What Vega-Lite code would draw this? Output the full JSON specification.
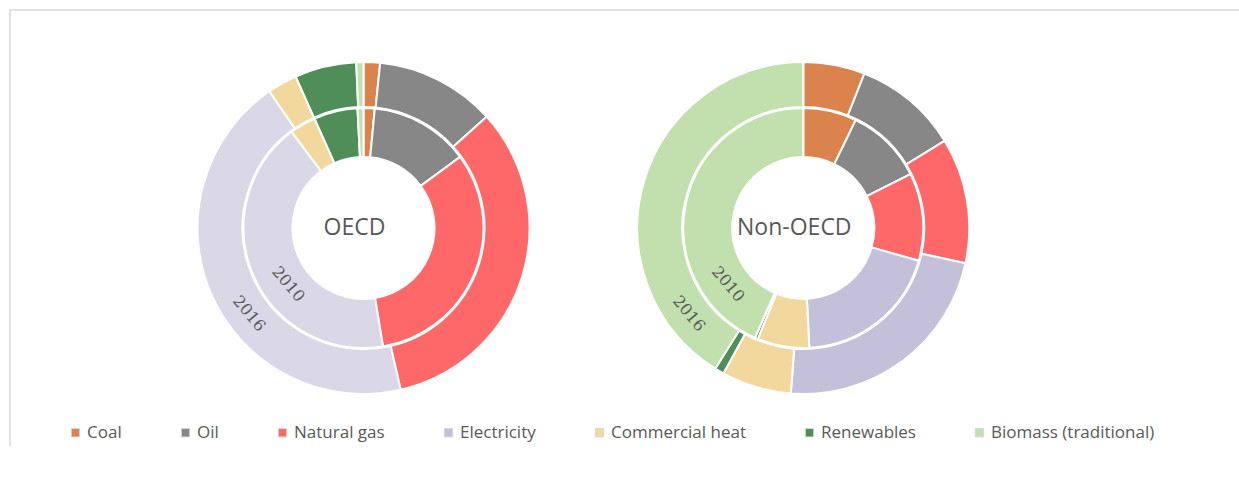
{
  "$schema": "https://vega.github.io/schema/vega-lite/v6.json",
  "width": 1240,
  "height": 436,
  "padding": {"left": 10, "top": 10, "right": 0, "bottom": 0},
  "autosize": "none",
  "background": "white",
  "config": {
    "view": {"stroke": "#e2e2e2", "strokeWidth": 2, "strokeDash": [1676, 1240, 436, 1]}
  },
  "datasets": {
    "energy": [
      {"region": "OECD", "year": "2010", "source": "Coal", "order": 1, "share": 1.5},
      {"region": "OECD", "year": "2010", "source": "Oil", "order": 2, "share": 13.4},
      {"region": "OECD", "year": "2010", "source": "Natural gas", "order": 3, "share": 32.5},
      {"region": "OECD", "year": "2010", "source": "Electricity", "order": 4, "share": 42.4},
      {"region": "OECD", "year": "2010", "source": "Commercial heat", "order": 5, "share": 3.5},
      {"region": "OECD", "year": "2010", "source": "Renewables", "order": 6, "share": 5.9},
      {"region": "OECD", "year": "2010", "source": "Biomass (traditional)", "order": 7, "share": 0.8},
      {"region": "OECD", "year": "2016", "source": "Coal", "order": 1, "share": 1.6},
      {"region": "OECD", "year": "2016", "source": "Oil", "order": 2, "share": 11.7},
      {"region": "OECD", "year": "2016", "source": "Natural gas", "order": 3, "share": 33.1},
      {"region": "OECD", "year": "2016", "source": "Electricity", "order": 4, "share": 44.0},
      {"region": "OECD", "year": "2016", "source": "Commercial heat", "order": 5, "share": 2.9},
      {"region": "OECD", "year": "2016", "source": "Renewables", "order": 6, "share": 6.0},
      {"region": "OECD", "year": "2016", "source": "Biomass (traditional)", "order": 7, "share": 0.7},
      {"region": "Non-OECD", "year": "2010", "source": "Coal", "order": 1, "share": 7.2},
      {"region": "Non-OECD", "year": "2010", "source": "Oil", "order": 2, "share": 10.4},
      {"region": "Non-OECD", "year": "2010", "source": "Natural gas", "order": 3, "share": 11.8},
      {"region": "Non-OECD", "year": "2010", "source": "Electricity", "order": 4, "share": 19.8},
      {"region": "Non-OECD", "year": "2010", "source": "Commercial heat", "order": 5, "share": 7.0},
      {"region": "Non-OECD", "year": "2010", "source": "Renewables", "order": 6, "share": 0.4},
      {"region": "Non-OECD", "year": "2010", "source": "Biomass (traditional)", "order": 7, "share": 43.4},
      {"region": "Non-OECD", "year": "2016", "source": "Coal", "order": 1, "share": 6.0},
      {"region": "Non-OECD", "year": "2016", "source": "Oil", "order": 2, "share": 10.2},
      {"region": "Non-OECD", "year": "2016", "source": "Natural gas", "order": 3, "share": 12.2},
      {"region": "Non-OECD", "year": "2016", "source": "Electricity", "order": 4, "share": 22.8},
      {"region": "Non-OECD", "year": "2016", "source": "Commercial heat", "order": 5, "share": 6.8},
      {"region": "Non-OECD", "year": "2016", "source": "Renewables", "order": 6, "share": 0.9},
      {"region": "Non-OECD", "year": "2016", "source": "Biomass (traditional)", "order": 7, "share": 41.1}
    ],
    "labels": [
      {"region": "OECD", "year": "2010"},
      {"region": "OECD", "year": "2016"},
      {"region": "Non-OECD", "year": "2010"},
      {"region": "Non-OECD", "year": "2016"}
    ]
  },
  "layer": [
    {
      "data": {"name": "energy"},
      "transform": [
        {"filter": "datum.year === '2010'"},
        {"stack": "share", "groupby": ["region"], "sort": [{"field": "order"}], "as": ["s0", "s1"]}
      ],
      "mark": {"type": "arc", "radius": 120, "radius2": 71, "stroke": "white", "strokeWidth": 2},
      "encoding": {
        "x": {"field": "region", "type": "nominal", "scale": {"type": "point", "domain": ["OECD", "Non-OECD"], "range": [353.5, 793.3], "padding": 0}, "axis": null},
        "theta": {"field": "s0", "type": "quantitative", "scale": {"domain": [0, 100]}},
        "theta2": {"field": "s1"},
        "color": {
          "field": "source", "type": "nominal",
          "scale": {
            "domain": ["Coal", "Oil", "Natural gas", "Electricity", "Commercial heat", "Renewables", "Biomass (traditional)"],
            "range": ["#DB834D", "#878787", "#FF6868", "#C5C0D9", "#F2D89D", "#4F8E59", "#C2E0AE"]
          },
          "legend": {
            "orient": "none", "legendX": 57, "legendY": 414, "direction": "horizontal", "columns": 7,
            "title": null, "padding": 0, "labelFont": "Open Sans", "labelFontSize": 17, "labelColor": "#595959",
            "labelLimit": 400,
            "symbolType": "square", "symbolSize": 70, "symbolStrokeColor": "#d6d6d6", "symbolStrokeWidth": 1,
            "columnPadding": 55, "labelOffset": 3
          }
        },
        "opacity": {"condition": {"test": "datum.region === 'OECD' && datum.source === 'Electricity'", "value": 0.62}, "value": 1}
      }
    },
    {
      "data": {"name": "energy"},
      "transform": [
        {"filter": "datum.year === '2016'"},
        {"stack": "share", "groupby": ["region"], "sort": [{"field": "order"}], "as": ["s0", "s1"]}
      ],
      "mark": {"type": "arc", "radius": 166, "radius2": 121, "stroke": "white", "strokeWidth": 2},
      "encoding": {
        "x": {"field": "region", "type": "nominal"},
        "theta": {"field": "s0", "type": "quantitative"},
        "theta2": {"field": "s1"},
        "color": {"field": "source", "type": "nominal"},
        "opacity": {"condition": {"test": "datum.region === 'OECD' && datum.source === 'Electricity'", "value": 0.62}, "value": 1}
      }
    },
    {
      "data": {"name": "labels"},
      "transform": [{"filter": "datum.year === '2010'"}],
      "mark": {"type": "text", "font": "Open Sans", "fontSize": 23, "color": "#595959", "dx": -9, "align": "center", "baseline": "middle"},
      "encoding": {
        "x": {"field": "region", "type": "nominal"},
        "text": {"field": "region"}
      }
    },
    {
      "data": {"name": "labels"},
      "transform": [{"filter": "datum.year === '2010'"}],
      "mark": {"type": "text", "font": "DejaVu Serif", "fontSize": 16, "color": "#595959", "align": "center", "baseline": "middle", "angle": 50, "theta": 4.07, "radius": 94},
      "encoding": {
        "x": {"field": "region", "type": "nominal"},
        "text": {"field": "year"}
      }
    },
    {
      "data": {"name": "labels"},
      "transform": [{"filter": "datum.year === '2016'"}],
      "mark": {"type": "text", "font": "DejaVu Serif", "fontSize": 16, "color": "#595959", "align": "center", "baseline": "middle", "angle": 50, "theta": 4.07, "radius": 143},
      "encoding": {
        "x": {"field": "region", "type": "nominal"},
        "text": {"field": "year"}
      }
    }
  ]
}
